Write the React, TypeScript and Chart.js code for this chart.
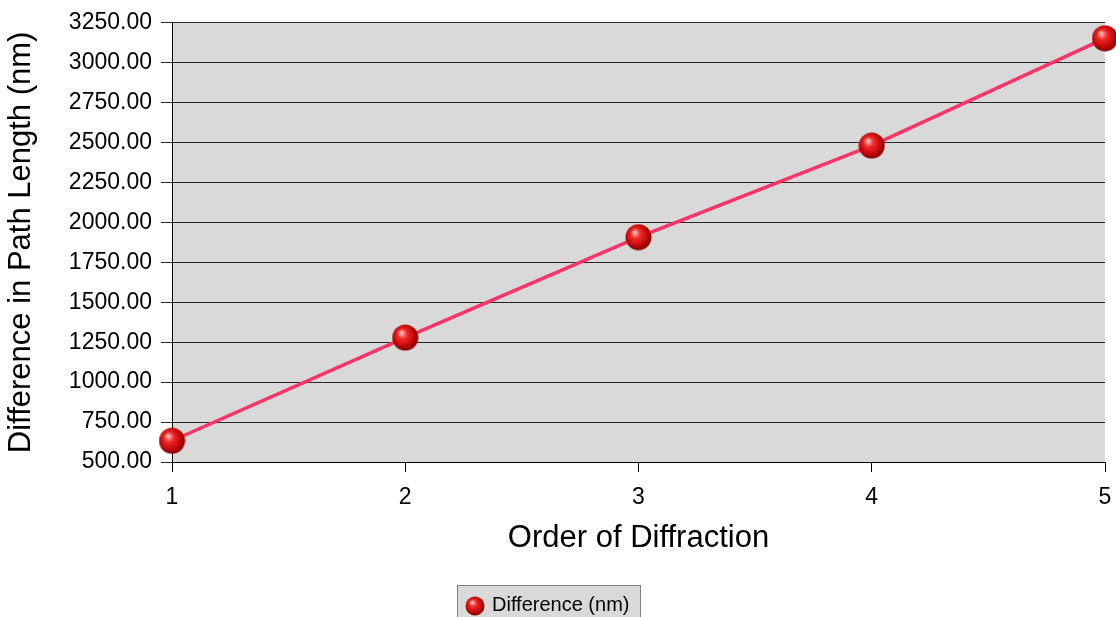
import React, { useEffect, useRef } from "react";
import { Chart, registerables } from "chart.js";

Chart.register(...registerables);

const orders = [1, 2, 3, 4, 5];
const differences = [633, 1279, 1908, 2481, 3153];
const seriesLabel = "Difference (nm)";
const xTitle = "Order of Diffraction";
const yTitle = "Difference in Path Length (nm)";

const FONT = "'Liberation Sans', Arial, sans-serif";

function makeSphere(size: number): HTMLCanvasElement {
  const c = document.createElement("canvas");
  c.width = size;
  c.height = size;
  const ctx = c.getContext("2d")!;
  const r = size / 2;
  const g = ctx.createRadialGradient(r * 0.7, r * 0.62, 0, r * 0.95, r * 0.95, r * 1.05);
  g.addColorStop(0, "#ffd6d6");
  g.addColorStop(0.12, "#ff9a9a");
  g.addColorStop(0.35, "#ee2a2a");
  g.addColorStop(0.7, "#c80a0a");
  g.addColorStop(1, "#7a0000");
  ctx.fillStyle = g;
  ctx.beginPath();
  ctx.arc(r, r, r - 0.5, 0, Math.PI * 2);
  ctx.fill();
  return c;
}

export default function App() {
  const ref = useRef<HTMLCanvasElement | null>(null);

  useEffect(() => {
    if (!ref.current) return;
    const sphere = makeSphere(27);
    const legendSphere = makeSphere(20);

    const bgPlugin = {
      id: "plotBg",
      beforeDraw(chart: any) {
        const { ctx, chartArea } = chart;
        ctx.save();
        ctx.fillStyle = "#d9d9d9";
        ctx.fillRect(chartArea.left, chartArea.top, chartArea.right - chartArea.left, chartArea.bottom - chartArea.top);
        ctx.restore();
      },
    };

    const legendPlugin = {
      id: "boxLegend",
      afterDraw(chart: any) {
        const ctx = chart.ctx;
        ctx.save();
        ctx.fillStyle = "#d9d9d9";
        ctx.fillRect(457.5, 585.5, 183, 40);
        ctx.strokeStyle = "#808080";
        ctx.lineWidth = 1;
        ctx.strokeRect(457.5, 585.5, 183, 40);
        ctx.drawImage(legendSphere, 465, 596, 20, 20);
        ctx.fillStyle = "#000";
        ctx.font = `20px ${FONT}`;
        ctx.textBaseline = "middle";
        ctx.textAlign = "left";
        ctx.fillText(seriesLabel, 492, 605);
        ctx.restore();
      },
    };

    const chart = new Chart(ref.current, {
      type: "line",
      data: {
        datasets: [
          {
            label: seriesLabel,
            data: orders.map((o, i) => ({ x: o, y: differences[i] })),
            borderColor: "#ff3366",
            borderWidth: 3.5,
            pointStyle: sphere as any,
            pointRadius: 13,
            pointHoverRadius: 13,
            tension: 0,
            clip: false as any,
          },
        ],
      },
      options: {
        animation: false,
        responsive: false,
        layout: { autoPadding: false, padding: { top: 22, right: 11, left: 0, bottom: 0 } },
        plugins: {
          legend: { display: false },
          tooltip: { enabled: false },
        },
        scales: {
          x: {
            type: "linear",
            min: 1,
            max: 5,
            afterFit(scale: any) {
              scale.height = 155;
              scale.paddingRight = 0;
              scale.paddingLeft = 0;
            },
            ticks: {
              stepSize: 1,
              color: "#000",
              padding: 12,
              font: { family: FONT, size: 23 },
              callback: (v: any) => String(v),
            },
            grid: {
              drawOnChartArea: false,
              drawTicks: true,
              tickLength: 10,
              color: "#000",
            },
            border: { color: "#000", width: 1 },
            title: {
              display: true,
              text: xTitle,
              color: "#000",
              font: { family: FONT, size: 31 },
              padding: { top: 0, bottom: 60 },
            },
          },
          y: {
            min: 500,
            max: 3250,
            afterFit(scale: any) {
              scale.width = 172;
            },
            ticks: {
              stepSize: 250,
              color: "#000",
              padding: 9,
              font: { family: FONT, size: 23 },
              callback: (v: any) => Number(v).toFixed(2),
            },
            grid: {
              drawOnChartArea: true,
              drawTicks: true,
              tickLength: 11,
              color: "#2a2a2a",
              lineWidth: 1,
            },
            border: { color: "#000", width: 1 },
            title: {
              display: true,
              text: yTitle,
              color: "#000",
              font: { family: FONT, size: 31 },
              padding: { top: 3, bottom: 0 },
            },
          },
        },
      },
      plugins: [bgPlugin, legendPlugin],
    });
    return () => chart.destroy();
  }, []);

  return (
    <div style={{ position: "fixed", left: 0, top: 0, width: 1116, height: 617, background: "#fff" }}>
      <canvas ref={ref} width={1116} height={617} style={{ display: "block" }} />
    </div>
  );
}
